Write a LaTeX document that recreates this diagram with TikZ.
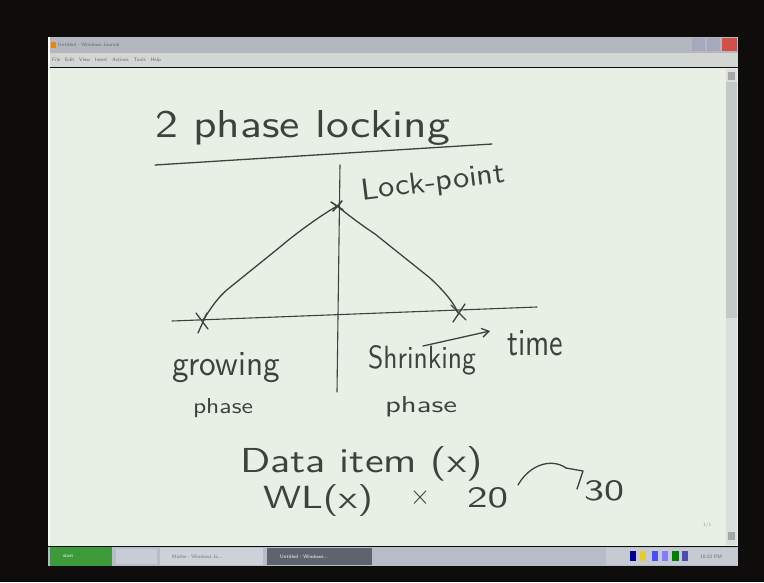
\documentclass[tikz,border=0pt]{standalone}
\usepackage{graphicx}
\usetikzlibrary{arrows.meta}
\definecolor{bg}{HTML}{0E0D0B}
\definecolor{paper}{HTML}{E8EFE5}
\definecolor{ink}{HTML}{3E423E}
\definecolor{titlebar}{HTML}{B3B7BF}
\definecolor{menubar}{HTML}{D3D7D4}
\definecolor{scrolltrack}{HTML}{D9DFDB}
\definecolor{scrollthumb}{HTML}{C2C9C6}
\definecolor{taskbar}{HTML}{B6BDC8}
\definecolor{startgreen}{HTML}{3C9A3A}
\definecolor{taskdark}{HTML}{5E646E}
\definecolor{tasklight}{HTML}{CDD1D8}
\definecolor{closered}{HTML}{D2504A}
\newcommand{\hw}[3]{\resizebox{#1pt}{#2pt}{\sffamily #3}}
\tikzset{
  inkline/.style={draw=ink, line width=1.3pt, line cap=round, line join=round},
  hwtext/.style={inner sep=0pt, outer sep=0pt, text=ink, anchor=base west},
  uitext/.style={inner sep=0pt, anchor=west, text=#1, font=\fontsize{5}{6}\selectfont\sffamily},
  uitext/.default=black!70
}
\begin{document}
\begin{tikzpicture}[x=1pt,y=-1pt]
\fill[bg] (0,0) rectangle (764,582);
\useasboundingbox (0,0) rectangle (764,582);
% window frame
\fill[titlebar] (48,37) rectangle (738,53);
\fill[menubar] (48,53) rectangle (738,67);
\fill[paper] (48,68) rectangle (738,546);
\fill[white!80!paper] (48,37) rectangle (50,546);
% title bar
\fill[orange!80!brown] (51,42) rectangle (56,48);
\node[uitext=black!60] (wintitle) at (58,45) {Untitled - Windows Journal};
\node[uitext=black!60] (menu) at (52,60) {File\quad Edit\quad View\quad Insert\quad Actions\quad Tools\quad Help};
\fill[blue!15!gray!60] (692,38) rectangle (705,51);
\fill[blue!15!gray!60] (707,38) rectangle (720,51);
\fill[closered] (722,38) rectangle (737,51);
% scrollbar
\fill[scrolltrack] (726,69) rectangle (737,545);
\fill[scrollthumb] (726,82) rectangle (737,318);
\fill[gray!70] (728,72) rectangle (735,80);
\fill[gray!70] (728,532) rectangle (735,540);
\node[uitext=black!40] (pageno) at (703,525) {1/1};
% taskbar
\fill[taskbar] (48,547) rectangle (738,566);
\fill[startgreen] (50,547) rectangle (112,566);
\node[uitext=white] (startbtn) at (63,556.5) {start};
\fill[tasklight!80!taskbar] (116,549) rectangle (157,564);
\fill[tasklight] (160,548) rectangle (263,565);
\node[uitext=black!55] (task1) at (172,556.5) {Maths - Windows Jo...};
\fill[taskdark] (267,548) rectangle (372,565);
\node[uitext=white!80] (task2) at (280,556.5) {Untitled - Windows...};
\fill[tasklight!70!taskbar] (606,548) rectangle (738,565);
\fill[blue!60!black] (630,551) rectangle (636,561);
\fill[yellow!60!brown] (640,551) rectangle (646,561);
\fill[blue!70] (652,551) rectangle (658,561);
\fill[blue!50] (662,551) rectangle (668,561);
\fill[green!50!black] (672,551) rectangle (679,561);
\fill[blue!40!gray] (682,551) rectangle (688,561);
\node[uitext=black!60] (clock) at (700,556.5) {10:22 PM};

% ---------- handwriting ----------
\node[hwtext] (title) at (155,137) {\hw{295}{27}{2 phase locking}};
\coordinate (ulA) at (155,165);
\coordinate (ulB) at (492,144);
\draw[inkline] (ulA) -- (ulB);

% axes
\coordinate (vTop) at (340,165);
\coordinate (vBot) at (337,392);
\coordinate (hL) at (172,321);
\coordinate (hR) at (537,307);
\draw[inkline, line width=1.1pt] (vTop) -- (vBot);
\draw[inkline, line width=1.1pt] (hL) -- (hR);

% points
\coordinate (peak) at (337,206);
\coordinate (lpt) at (203,320);
\coordinate (rpt) at (458,313);
\draw[inkline] (peak) .. controls (322,215) and (300,230) .. (280,247)
  -- (228,289) .. controls (216,299) and (210,310) .. (lpt);
\draw[inkline] (peak) .. controls (347,214) and (360,224) .. (375,234)
  -- (430,278) .. controls (445,292) and (454,303) .. (rpt);
% x marks
\draw[inkline, line width=1.6pt] (331,202) -- (343,210) (342,201) -- (333,211);
\draw[inkline] (196,313) -- (208,329) (207,313) -- (198,333);
\draw[inkline] (451,305) -- (466,320) (465,304) -- (453,322);

% labels
\node[hwtext, rotate=7] (lockpoint) at (362,200) {\hw{145}{21}{Lock-point}};
\node[hwtext] (growing) at (172,375) {\hw{108}{23}{growing}};
\node[hwtext] (phaseL) at (193,413) {\hw{60}{15}{phase}};
\node[hwtext] (shrinking) at (368,368) {\hw{108}{23}{Shrinking}};
\node[hwtext] (phaseR) at (385,412) {\hw{72}{16}{phase}};
\node[hwtext] (time) at (507,355) {\hw{56}{25}{time}};
\coordinate (tA) at (423,346);
\coordinate (tB) at (490,331);
\draw[inkline, -{Straight Barb[length=7pt,width=9pt]}] (tA) -- (tB);

\node[hwtext] (dataitem) at (240,472) {\hw{243}{26}{Data item (x)}};
\node[hwtext] (wl) at (263,508) {\hw{110}{24}{WL(x)}};
\node[hwtext] (times) at (410,504) {\hw{20}{16}{$\times$}};
\node[hwtext] (twenty) at (467,507) {\hw{41}{20}{20}};
\node[hwtext] (thirty) at (584,500) {\hw{40}{20}{30}};
\coordinate (cA) at (518,485);
\coordinate (cB) at (566,468);
\draw[inkline] (cA) .. controls (530,464) and (552,458) .. (cB);
\draw[inkline] (cB) -- (583,471) -- (577,489);
\end{tikzpicture}
\end{document}
